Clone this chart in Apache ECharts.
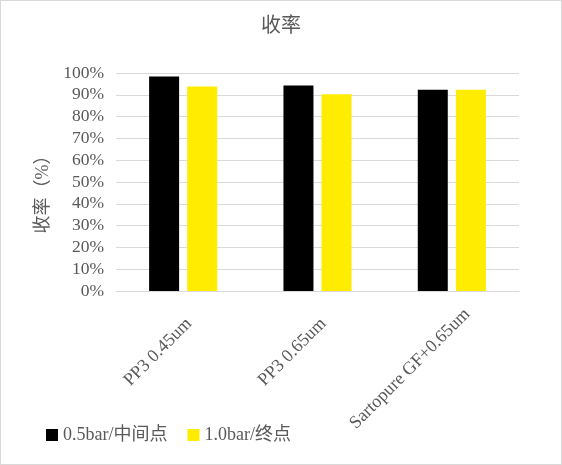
<!DOCTYPE html>
<html>
<head>
<meta charset="utf-8">
<script src="https://cdn.jsdelivr.net/npm/echarts@6/dist/echarts.min.js"></script>
<style>
  html, body { margin: 0; padding: 0; background: #fff; }
  #main { width: 560px; height: 463px; border: 1px solid #D9D9D9; }
</style>
</head>
<body>
<div id="main"></div>
<script>
// 数据
var categories = ['PP3 0.45um', 'PP3 0.65um', 'Sartopure GF+0.65um'];
var seriesNames = ['0.5bar/中间点', '1.0bar/终点'];
var midValues = [0.984, 0.943, 0.923];   // 0.5bar/中间点
var endValues = [0.938, 0.902, 0.923];   // 1.0bar/终点

var textColor = '#595959';
var fontFam = '"Liberation Serif", "Noto Sans CJK SC", serif';

// 长标签位置微调
var catData = categories.map(function (c, i) {
    if (i == 2) {
        return { value: c, textStyle: { padding: [32, -22, 0, 0] } };
    }
    return c;
});

var myChart = echarts.init(document.getElementById('main'));

var option = {
    animation: false,
    title: {
        text: '收率',
        left: 'center',
        top: 11,
        textStyle: { color: textColor, fontSize: 20, fontWeight: 'normal', fontFamily: fontFam }
    },
    legend: {
        left: 40,
        top: 420,
        itemWidth: 12,
        itemHeight: 12,
        itemGap: 20,
        icon: 'rect',
        data: seriesNames,
        textStyle: { color: textColor, fontSize: 18, fontFamily: fontFam }
    },
    grid: {
        left: 115,
        right: 42,
        top: 72,
        bottom: 173,
        containLabel: false
    },
    xAxis: {
        type: 'category',
        data: catData,
        axisTick: { show: false },
        axisLine: { lineStyle: { color: '#D9D9D9' } },
        axisLabel: {
            rotate: 45,
            interval: 0,
            margin: 36,
            padding: [0, -8.5, 0, 0],
            color: textColor,
            fontSize: 18,
            fontFamily: fontFam
        }
    },
    yAxis: {
        type: 'value',
        min: 0,
        max: 1,
        interval: 0.1,
        name: '收率（%）',
        nameLocation: 'middle',
        nameGap: 64,
        nameTextStyle: { color: textColor, fontSize: 18, fontFamily: fontFam, padding: [0, 16, 0, 0] },
        axisLine: { show: false },
        axisTick: { show: false },
        splitLine: { lineStyle: { color: '#D9D9D9' } },
        axisLabel: {
            color: textColor,
            fontSize: 17.5,
            fontFamily: fontFam,
            margin: 12,
            formatter: function (v) { return Math.round(v * 100) + '%'; }
        }
    },
    series: [
        {
            name: seriesNames[0],
            type: 'bar',
            data: midValues,
            barWidth: 30,
            barGap: '27%',
            itemStyle: { color: '#000000' }
        },
        {
            name: seriesNames[1],
            type: 'bar',
            data: endValues,
            barWidth: 30,
            itemStyle: { color: '#FFEC00' }
        }
    ]
};

myChart.setOption(option);
</script>
</body>
</html>
